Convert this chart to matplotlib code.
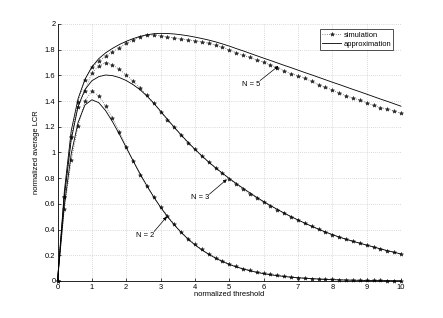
import numpy as np
import matplotlib
matplotlib.use("Agg")
import matplotlib.pyplot as plt

plt.rcParams["font.family"] = ["Liberation Sans", "DejaVu Sans"]

# -----------------------------
# Data (step 0.2 in threshold)
# -----------------------------
threshold = np.round(np.arange(0, 10.01, 0.2), 1)

sim_n2 = [0.000, 0.558, 0.940, 1.206, 1.400, 1.480, 1.440, 1.364, 1.266, 1.160,
          1.045, 0.934, 0.825, 0.739, 0.655, 0.575, 0.508, 0.440, 0.380, 0.330,
          0.287, 0.247, 0.212, 0.182, 0.156, 0.132, 0.113, 0.097, 0.083, 0.071,
          0.061, 0.052, 0.044, 0.038, 0.032, 0.027, 0.023, 0.019, 0.016, 0.014,
          0.012, 0.010, 0.008, 0.007, 0.006, 0.005, 0.004, 0.004, 0.003, 0.003,
          0.002]
approx_n2 = [0.000, 0.590, 0.990, 1.235, 1.370, 1.410, 1.388, 1.326, 1.240, 1.143,
             1.039, 0.936, 0.836, 0.742, 0.654, 0.574, 0.501, 0.436, 0.378, 0.326,
             0.281, 0.242, 0.208, 0.178, 0.152, 0.129, 0.110, 0.094, 0.080, 0.067,
             0.057, 0.048, 0.041, 0.035, 0.029, 0.025, 0.021, 0.018, 0.015, 0.012,
             0.010, 0.009, 0.007, 0.006, 0.005, 0.004, 0.004, 0.003, 0.003, 0.002,
             0.002]

sim_n3 = [0.000, 0.656, 1.120, 1.356, 1.478, 1.620, 1.672, 1.700, 1.681, 1.647,
          1.605, 1.555, 1.504, 1.445, 1.385, 1.318, 1.253, 1.196, 1.136, 1.076,
          1.025, 0.975, 0.924, 0.882, 0.838, 0.797, 0.752, 0.713, 0.677, 0.645,
          0.615, 0.584, 0.556, 0.527, 0.500, 0.475, 0.451, 0.425, 0.404, 0.380,
          0.361, 0.341, 0.326, 0.308, 0.295, 0.280, 0.264, 0.251, 0.236, 0.224,
          0.210]
approx_n3 = [0.000, 0.660, 1.100, 1.360, 1.490, 1.558, 1.590, 1.603, 1.598, 1.583,
             1.560, 1.528, 1.489, 1.440, 1.384, 1.322, 1.258, 1.196, 1.136, 1.079,
             1.025, 0.974, 0.926, 0.881, 0.839, 0.798, 0.759, 0.722, 0.686, 0.651,
             0.618, 0.587, 0.557, 0.528, 0.501, 0.475, 0.450, 0.426, 0.403, 0.381,
             0.361, 0.342, 0.325, 0.309, 0.294, 0.279, 0.265, 0.250, 0.236, 0.223,
             0.210]

sim_n5 = [0.000, 0.656, 1.120, 1.396, 1.564, 1.663, 1.712, 1.748, 1.785, 1.815,
          1.850, 1.874, 1.898, 1.912, 1.915, 1.908, 1.899, 1.890, 1.882, 1.876,
          1.869, 1.860, 1.850, 1.836, 1.818, 1.798, 1.777, 1.757, 1.740, 1.721,
          1.701, 1.682, 1.660, 1.636, 1.614, 1.598, 1.579, 1.553, 1.528, 1.506,
          1.487, 1.463, 1.442, 1.423, 1.408, 1.388, 1.366, 1.350, 1.338, 1.323,
          1.305]
approx_n5 = [0.000, 0.700, 1.170, 1.420, 1.570, 1.665, 1.730, 1.775, 1.810, 1.840,
             1.865, 1.886, 1.903, 1.916, 1.924, 1.927, 1.926, 1.922, 1.916, 1.908,
             1.898, 1.887, 1.875, 1.861, 1.845, 1.828, 1.809, 1.791, 1.772, 1.753,
             1.734, 1.716, 1.697, 1.678, 1.660, 1.641, 1.622, 1.604, 1.585, 1.566,
             1.547, 1.529, 1.510, 1.491, 1.473, 1.454, 1.435, 1.416, 1.398, 1.379,
             1.360]

x_ticks = [0, 1, 2, 3, 4, 5, 6, 7, 8, 9, 10]
x_ticklabels = ["0", "1", "2", "3", "4", "5", "6", "7", "8", "9", "10"]
y_ticks = [0, 0.2, 0.4, 0.6, 0.8, 1.0, 1.2, 1.4, 1.6, 1.8, 2.0]
y_ticklabels = ["0", "0.2", "0.4", "0.6", "0.8", "1", "1.2", "1.4", "1.6", "1.8", "2"]

# label text, arrow tip, arrow tail
annotations = [
    ("N = 5", (6.43, 1.673), (5.90, 1.560)),
    ("N = 3", (4.93, 0.791), (4.42, 0.675)),
    ("N = 2", (3.18, 0.500), (2.81, 0.384)),
]

# -----------------------------
# Plot
# -----------------------------
fig = plt.figure(figsize=(4.43, 3.18), dpi=100)
ax = fig.add_axes([0.1298, 0.1164, 0.7754, 0.8082])

fs = 5.4
sim_style = dict(color="0.15", linestyle=(0, (1, 2.2)), linewidth=0.5,
                 marker="*", markersize=3.0, markeredgewidth=0.4, clip_on=False)
approx_style = dict(color="black", linewidth=0.6, clip_on=False)

for i, (s, a) in enumerate([(sim_n5, approx_n5), (sim_n3, approx_n3), (sim_n2, approx_n2)]):
    ax.plot(threshold, s, label="simulation" if i == 0 else None, **sim_style)
    ax.plot(threshold, a, label="approximation" if i == 0 else None, **approx_style)

ax.set_xlim(0, 10)
ax.set_ylim(0, 2)
ax.set_xticks(x_ticks)
ax.set_xticklabels(x_ticklabels)
ax.set_yticks(y_ticks)
ax.set_yticklabels(y_ticklabels)
ax.tick_params(direction="in", length=2.5, width=0.5, labelsize=fs, pad=2)
ax.tick_params(axis="y", pad=1.5)

for side in ["top", "right"]:
    ax.spines[side].set_visible(False)
for side in ["left", "bottom"]:
    ax.spines[side].set_linewidth(0.6)

ax.grid(True, color="0.72", linestyle=(0, (1, 2)), linewidth=0.5)
ax.set_axisbelow(True)

ax.set_xlabel("normalized threshold", fontsize=fs)
ax.set_ylabel("normalized average LCR", fontsize=fs)
ax.xaxis.set_label_coords(0.5, -0.038)
ax.yaxis.set_label_coords(-0.052, 0.5)

for text, tip, tail in annotations:
    ax.annotate("", xy=tip, xytext=tail,
                arrowprops=dict(arrowstyle="-|>", color="black", lw=0.5,
                                mutation_scale=5, shrinkA=0, shrinkB=0))
    ax.text(tail[0], tail[1], text, ha="right", va="top", fontsize=fs)

leg = ax.legend(loc="upper right", bbox_to_anchor=(0.978, 0.979), borderaxespad=0,
                fontsize=fs, fancybox=False, numpoints=1, handlelength=2.6,
                handletextpad=0.3, borderpad=0.3, labelspacing=0.25)
leg.get_frame().set_edgecolor("black")
leg.get_frame().set_linewidth(0.6)

fig.savefig("out.png", dpi=100)
